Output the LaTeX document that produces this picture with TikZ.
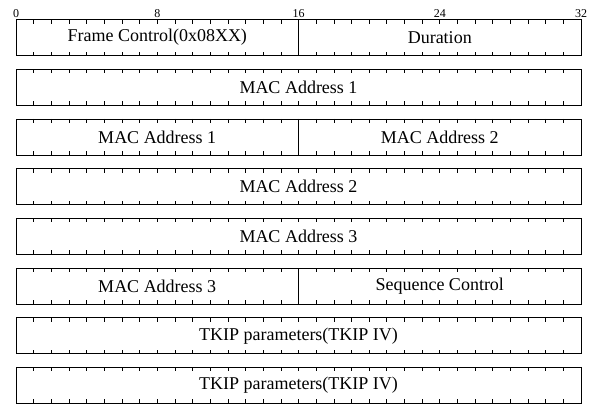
\documentclass[tikz,border=0pt]{standalone}
\usepackage{fontspec}
\setmainfont{Liberation Serif}
\usetikzlibrary{positioning}

\tikzset{
    field/.style={draw, rectangle, line width=0.8pt, inner sep=0pt, outer sep=0pt,
        minimum height=36pt, anchor=north west, font=\fontsize{18}{20}\selectfont},
    halffield/.style={field, minimum width=282.5pt},
    fullfield/.style={field, minimum width=565pt},
    bitlabel/.style={anchor=south, inner sep=1pt, font=\fontsize{12}{13}\selectfont},
    bittick/.style={line width=0.6pt}
}

\begin{document}
\begin{tikzpicture}[x=1pt,y=-1pt]
    \useasboundingbox (0,0) rectangle (592,405);
    % Left edge, width of one bit and vertical pitch of the rows
    \pgfmathsetmacro{\x}{16};
    \pgfmathsetmacro{\bw}{565/32};
    \pgfmathsetmacro{\rp}{49.7};
    \pgfmathsetmacro{\ty}{19.5};

    % Header fields, one row of 32 bits each
    \node[halffield] (fc) at (\x,\ty) {Frame Control(0x08XX)};
    \node[halffield, right=0pt of fc] (dur) {Duration};
    \node[fullfield] (addr1) at (\x,\ty+\rp) {MAC Address 1};
    \node[halffield] (addr1b) at (\x,\ty+2*\rp) {MAC Address 1};
    \node[halffield, right=0pt of addr1b] (addr2a) {MAC Address 2};
    \node[fullfield] (addr2) at (\x,\ty+3*\rp) {MAC Address 2};
    \node[fullfield] (addr3) at (\x,\ty+4*\rp) {MAC Address 3};
    \node[halffield] (addr3b) at (\x,\ty+5*\rp) {MAC Address 3};
    \node[halffield, right=0pt of addr3b] (seq) {Sequence Control};
    \node[fullfield] (tkip1) at (\x,\ty+6*\rp) {TKIP parameters(TKIP IV)};
    \node[fullfield] (tkip2) at (\x,\ty+7*\rp) {TKIP parameters(TKIP IV)};

    % Bit ruler above the first row
    \foreach \b in {0,8,...,32}%
    {%
        \node[bitlabel] (bit\b) at (\x+\b*\bw,\ty-0.5) {\b};
    }

    % Bit ticks on top and bottom edge of every row
    \foreach \r in {0,...,7}%
    {%
        \foreach \b in {1,...,31}%
        {%
            \draw[bittick] (\x+\b*\bw,\ty+\r*\rp) -- ++(0,4)
                (\x+\b*\bw,\ty+\r*\rp+36) -- ++(0,-4);
        }
    }
\end{tikzpicture}
\end{document}
